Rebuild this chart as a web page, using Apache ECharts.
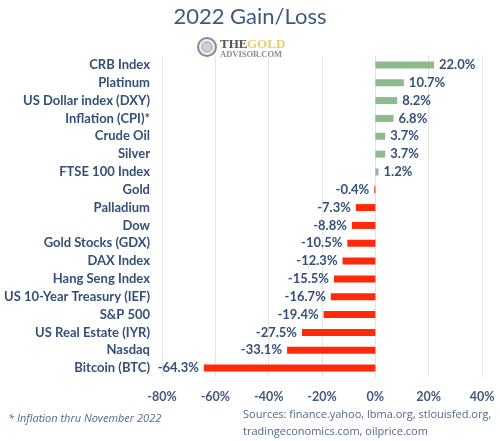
<!DOCTYPE html>
<html><head><meta charset="utf-8">
<script src="https://cdn.jsdelivr.net/npm/echarts@6/dist/echarts.min.js"></script>
<style>html,body{margin:0;padding:0;background:#fff}#c{width:500px;height:441px}</style>
</head><body><div id="c"></div>
<script>
var categories = ["CRB Index","Platinum","US Dollar index (DXY)","Inflation (CPI)*","Crude Oil","Silver","FTSE 100 Index","Gold","Palladium","Dow","Gold Stocks (GDX)","DAX Index","Hang Seng Index","US 10-Year Treasury (IEF)","S&P 500","US Real Estate (IYR)","Nasdaq","Bitcoin (BTC)"];
var values = [22.0,10.7,8.2,6.8,3.7,3.7,1.2,-0.4,-7.3,-8.8,-10.5,-12.3,-15.5,-16.7,-19.4,-27.5,-33.1,-64.3];
var axisTicks = [-80,-60,-40,-20,0,20,40];

var txt = '#34507a';
var chart = echarts.init(document.getElementById('c'));
chart.setOption({
  backgroundColor:'#fff',
  animation:false,
  title:{text:'2022 Gain/Loss',left:'center',top:1,textStyle:{fontFamily:'Lato',fontWeight:'normal',fontSize:22,color:'#3d5a80'}},
  grid:{left:162,right:18,top:56,bottom:64,containLabel:false},
  xAxis:{type:'value',min:axisTicks[0],max:axisTicks[axisTicks.length-1],interval:20,
    axisLine:{show:false},axisTick:{show:false},
    splitLine:{lineStyle:{color:'#e4e4e4',width:1}},
    axisLabel:{margin:13,formatter:function(v){return v+'%';},fontFamily:'Lato',fontWeight:'bold',fontSize:12.5,color:'#44587a'}},
  yAxis:{type:'category',data:categories,inverse:true,
    axisLine:{show:false},axisTick:{show:false},splitLine:{show:false},
    axisLabel:{margin:12,fontFamily:'Lato',fontWeight:'bold',fontSize:13,color:txt}},
  series:[{type:'bar',barWidth:7,
    data:values.map(function(v){return {value:v,label:{position:v>=0?'right':'left'}};}),
    itemStyle:{color:function(p){return p.value>=0?'#8dbb8c':'#ff2a0a';}},
    label:{show:true,fontFamily:'Lato',fontWeight:'bold',fontSize:13,color:txt,
      formatter:function(p){return p.value.toFixed(1)+'%';},distance:5}
  }],
  graphic:[
    {type:'circle',shape:{cx:207,cy:47,r:9},style:{fill:'#ececec',stroke:'#8a8a8a',lineWidth:2}},
    {type:'circle',shape:{cx:207,cy:47,r:5},style:{fill:'#c9d3e0',stroke:'#9aa3ad',lineWidth:1}},
    {type:'text',left:220,top:38,style:{text:'THE',font:'bold 13px "Liberation Serif"',fill:'#555'}},
    {type:'text',left:247,top:38,style:{text:'GOLD',font:'bold 13px "Liberation Serif"',fill:'#e8cd72'}},
    {type:'text',left:220,top:50,style:{text:'ADVISOR.COM',font:'bold 8.5px "Liberation Serif"',fill:'#8a8a8a'}},
    {type:'text',left:8,top:413,style:{text:'* Inflation thru November 2022',font:'italic 11px "Open Sans"',fill:'#4f6a8a'}},
    {type:'text',left:243,top:406,style:{text:'Sources: finance.yahoo, lbma.org, stlouisfed.org,\ntradingeconomics.com, oilprice.com',font:'11px "Open Sans"',fill:'#4f6a8a',lineHeight:17}}
  ]
});
</script></body></html>
